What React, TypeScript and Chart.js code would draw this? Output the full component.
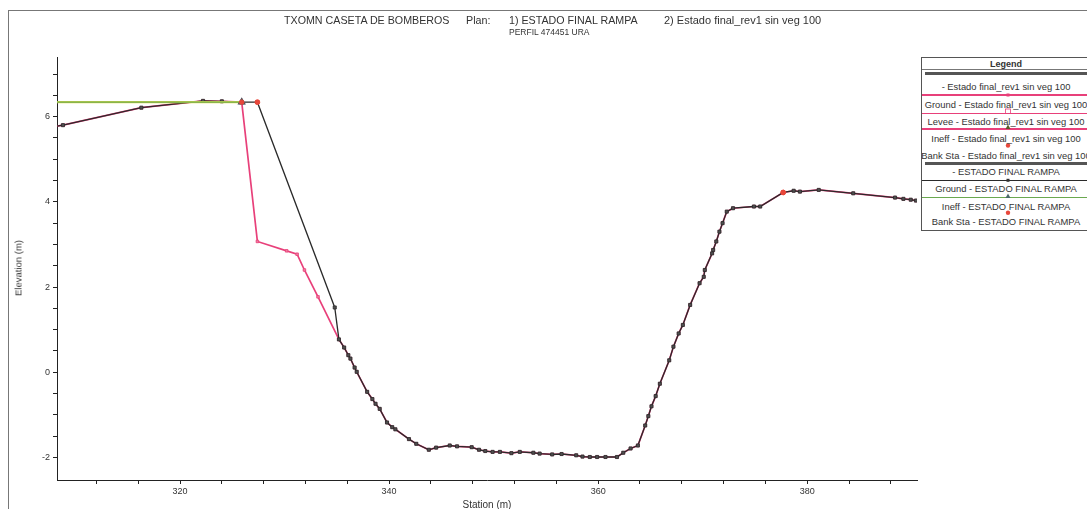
import React, { useEffect, useRef } from "react";
import { Chart, registerables } from "chart.js";
Chart.register(...registerables);

// ---- data ----
const X_MIN = 308.23;
const X_MAX = 390.5;
const Y_MIN = -2.53;
const Y_MAX = 7.4;

const rampaTopStation = [308.0, 308.8, 316.3, 322.2, 324.0, 325.9, 327.4, 334.8];
const rampaTopElev = [5.77, 5.8, 6.21, 6.37, 6.36, 6.34, 6.34, 1.52];

const rev1TopStation = [308.0, 308.8, 316.3, 322.2, 324.0, 325.9, 327.4, 330.2, 331.2, 331.9, 333.2];
const rev1TopElev = [5.77, 5.8, 6.21, 6.37, 6.36, 6.34, 3.07, 2.85, 2.77, 2.4, 1.77];

const commonStation = [
  335.2, 335.7, 336.1, 336.3, 336.7, 336.9, 337.9, 338.4, 338.7, 339.1, 339.8, 340.3, 340.6,
  341.9, 342.6, 343.8, 344.5, 345.8, 346.5, 347.9, 348.6, 349.2, 349.9, 350.6, 351.7, 352.5,
  353.8, 354.4, 355.6, 356.5, 357.9, 358.5, 359.2, 359.9, 360.7, 361.8, 362.4, 363.1, 363.8,
  364.5, 364.8, 365.1, 365.5, 365.9, 366.8, 367.2, 367.7, 368.1, 368.8, 369.7, 370.1, 370.2,
  370.9, 371.0, 371.3, 371.6, 371.9, 372.3, 372.9, 374.9, 375.5, 377.7, 378.7, 379.3, 381.1,
  384.4, 388.4, 389.2, 389.9, 390.4,
];
const commonElev = [
  0.77, 0.58, 0.4, 0.32, 0.11, 0.01, -0.46, -0.63, -0.74, -0.86, -1.18, -1.29, -1.34,
  -1.57, -1.68, -1.82, -1.77, -1.72, -1.74, -1.76, -1.82, -1.85, -1.87, -1.87, -1.9, -1.87,
  -1.89, -1.91, -1.93, -1.92, -1.95, -1.98, -1.99, -1.99, -1.99, -1.99, -1.89, -1.79, -1.72,
  -1.25, -1.03, -0.8, -0.56, -0.27, 0.28, 0.6, 0.91, 1.11, 1.58, 2.09, 2.24, 2.4,
  2.79, 2.87, 3.07, 3.3, 3.5, 3.77, 3.85, 3.89, 3.89, 4.22, 4.26, 4.24, 4.28,
  4.2, 4.1, 4.07, 4.05, 4.03,
];

const ineffRampaStation = [307.5, 325.9];
const ineffRampaElev = [6.34, 6.34];
const ineffRev1Station = [307.5, 325.9];
const ineffRev1Elev = [6.34, 6.34];

const bankRampaStation = [327.4, 377.7];
const bankRampaElev = [6.34, 4.22];
const bankRev1Station = [325.9, 377.7];
const bankRev1Elev = [6.34, 4.22];

const leveeRev1Station = [325.9];
const leveeRev1Elev = [6.34];

const yTickStep = 0.5;
const yLabelEvery = 2;
const xTickStep = 4;
const xLabelEvery = 20;

const titleParts = [
  "TXOMN CASETA DE BOMBEROS",
  "Plan:",
  "1) ESTADO FINAL RAMPA",
  "2) Estado final_rev1 sin veg 100",
];
const subtitle = "PERFIL 474451 URA";
const xTitle = "Station (m)";
const yTitle = "Elevation (m)";

const legendLabels = [
  " - Estado final_rev1 sin veg 100",
  "Ground - Estado final_rev1 sin veg 100",
  "Levee - Estado final_rev1 sin veg 100",
  "Ineff - Estado final_rev1 sin veg 100",
  "Bank Sta - Estado final_rev1 sin veg 100",
  "- ESTADO FINAL RAMPA",
  "Ground - ESTADO FINAL RAMPA",
  "Ineff - ESTADO FINAL RAMPA",
  "Bank Sta - ESTADO FINAL RAMPA",
];

// ---- colours ----
const BLACK = "#2a2a2a";
const PINK = "#e8407a";
const GREEN = "#6aa84f";
const YELLOW = "#e2dc4a";
const RED = "#e8473a";
const FONT = "'Liberation Sans', Arial, sans-serif";

const pts = (xs: number[], ys: number[]) => xs.map((x, i) => ({ x, y: ys[i] }));

function Legend() {
  const W = 172;
  const textY = [28.5, 46.5, 63.5, 80.5, 98, 113.7, 131.3, 148.5, 163.7];
  const textStyle = (y: number): React.CSSProperties => ({
    position: "absolute",
    left: -10,
    width: W + 16,
    top: y - 6,
    height: 12,
    lineHeight: "12px",
    textAlign: "center",
    fontSize: 9.4,
    color: "#333",
    whiteSpace: "nowrap",
  });
  const hline = (y: number, color: string, h = 1): React.CSSProperties => ({
    position: "absolute",
    left: 0,
    width: W,
    top: y - h / 2,
    height: h,
    background: color,
  });
  const cx = 86;
  return (
    <div
      style={{
        position: "absolute",
        left: 921,
        top: 57,
        width: W,
        height: 172,
        border: "1px solid #555",
        background: "#fff",
        fontFamily: FONT,
        overflow: "hidden",
      }}
    >
      <div style={{ ...textStyle(5.5), fontWeight: "bold", fontSize: 9 }}>Legend</div>
      <div style={hline(11, "#777")} />
      <div style={{ ...hline(15.3, "#555", 3), left: 3, width: W - 6 }} />
      <div style={{ ...hline(37, PINK, 1.2) }} />
      <div style={{ ...hline(55.5, PINK, 1.2) }} />
      <div style={{ ...hline(71, PINK, 1.2) }} />
      <div style={{ ...hline(105.7, "#555", 3), left: 3, width: W - 6 }} />
      <div style={{ ...hline(122.3, BLACK, 1) }} />
      <div style={{ ...hline(139.8, GREEN, 1.2) }} />
      <svg width={W} height={172} style={{ position: "absolute", left: 0, top: 0 }}>
        <rect x={cx - 1.5} y={35.5} width={3} height={3} fill={PINK} />
        <rect x={cx - 2.5} y={51} width={5} height={4.5} fill="none" stroke={PINK} strokeWidth={0.8} />
        <polygon points={`${cx},66.5 ${cx - 2.5},71 ${cx + 2.5},71`} fill="#5a5a2a" />
        <circle cx={cx} cy={87.5} r={2.2} fill={RED} />
        <rect x={cx - 1.5} y={120.8} width={3} height={3} fill="#333" />
        <polygon points={`${cx},135.5 ${cx - 2.5},140 ${cx + 2.5},140`} fill="#4a6a6a" />
        <circle cx={cx} cy={154.7} r={2.2} fill={RED} />
      </svg>
      {legendLabels.map((t, i) => (
        <div key={i} style={textStyle(textY[i])}>
          {t}
        </div>
      ))}
    </div>
  );
}

export default function App() {
  const ref = useRef<HTMLCanvasElement | null>(null);

  useEffect(() => {
    if (!ref.current) return;
    const markerR = (r: number) => (c: any) =>
      c.raw && (c.raw.x < X_MIN || c.raw.x > X_MAX) ? 0 : r;

    const chart = new Chart(ref.current, {
      type: "line",
      data: {
        datasets: [
          {
            label: "Bank Sta - ESTADO FINAL RAMPA",
            data: pts(bankRampaStation, bankRampaElev),
            showLine: false,
            pointStyle: "circle",
            pointRadius: 2.4,
            pointBackgroundColor: RED,
            pointBorderColor: RED,
            order: 0,
          },
          {
            label: "Bank Sta - Estado final_rev1 sin veg 100",
            data: pts(bankRev1Station, bankRev1Elev),
            showLine: false,
            pointStyle: "circle",
            pointRadius: 2.2,
            pointBackgroundColor: RED,
            pointBorderColor: RED,
            order: 1,
          },
          {
            label: "Levee - Estado final_rev1 sin veg 100",
            data: pts(leveeRev1Station, leveeRev1Elev),
            showLine: false,
            pointStyle: "triangle",
            pointRadius: 3.5,
            pointBackgroundColor: "#777",
            pointBorderColor: "#555",
            order: 2,
          },
          {
            label: "Ineff - ESTADO FINAL RAMPA",
            data: pts(ineffRampaStation, ineffRampaElev),
            borderColor: GREEN,
            borderWidth: 1.4,
            pointStyle: "triangle",
            pointRadius: (c: any) => (c.dataIndex === ineffRampaStation.length - 1 ? 3.5 : 0),
            pointBackgroundColor: "#7a8a7a",
            pointBorderColor: "#556",
            order: 3,
          },
          {
            label: "Ineff - Estado final_rev1 sin veg 100",
            data: pts(ineffRev1Station, ineffRev1Elev),
            borderColor: YELLOW,
            borderWidth: 2.4,
            pointRadius: 0,
            order: 4,
          },
          {
            label: "Ground - ESTADO FINAL RAMPA",
            data: pts(rampaTopStation.concat(commonStation), rampaTopElev.concat(commonElev)),
            borderColor: BLACK,
            borderWidth: 1.3,
            pointStyle: "rect",
            pointRadius: markerR(2.2),
            pointBackgroundColor: "#505050",
            pointBorderColor: "#2a2a2a",
            pointBorderWidth: 0.8,
            order: 5,
          },
          {
            label: "Ground - Estado final_rev1 sin veg 100",
            data: pts(rev1TopStation.concat(commonStation), rev1TopElev.concat(commonElev)),
            borderColor: PINK,
            borderWidth: 1.7,
            pointStyle: "rect",
            pointRadius: markerR(1.8),
            pointBackgroundColor: "#f07fa0",
            pointBorderColor: PINK,
            pointBorderWidth: 0.8,
            order: 6,
          },
        ],
      },
      options: {
        animation: false,
        responsive: false,
        devicePixelRatio: 1,
        parsing: false as any,
        layout: { padding: { left: 0, top: 57, right: 1087 - 917, bottom: 0 } },
        plugins: { legend: { display: false }, tooltip: { enabled: false }, title: { display: false } },
        elements: { line: { tension: 0 } },
        scales: {
          x: {
            type: "linear",
            min: X_MIN,
            max: X_MAX,
            afterFit: (s: any) => {
              s.height = 29;
            },
            afterBuildTicks: (s: any) => {
              const t: any[] = [];
              for (let v = Math.ceil(X_MIN / xTickStep) * xTickStep; v <= X_MAX; v += xTickStep) t.push({ value: v });
              s.ticks = t;
            },
            grid: { display: true, drawOnChartArea: false, drawTicks: true, tickLength: 4, color: "#222" },
            border: { display: true, color: "#222", width: 1 },
            ticks: {
              autoSkip: false,
              maxRotation: 0,
              padding: 2,
              color: "#333",
              font: { family: FONT, size: 9 },
              callback: (v: any) => (Math.abs(v % xLabelEvery) < 1e-6 ? String(v) : ""),
            },
          },
          y: {
            type: "linear",
            min: Y_MIN,
            max: Y_MAX,
            afterFit: (s: any) => {
              s.width = 57;
            },
            afterBuildTicks: (s: any) => {
              s.ticks = s.ticks.filter(
                (t: any) => Math.abs(t.value / yTickStep - Math.round(t.value / yTickStep)) < 1e-6
              );
            },
            grid: { display: true, drawOnChartArea: false, drawTicks: true, tickLength: 4, color: "#222" },
            border: { display: true, color: "#222", width: 1 },
            ticks: {
              stepSize: yTickStep,
              autoSkip: false,
              padding: 3,
              color: "#333",
              font: { family: FONT, size: 9 },
              callback: (v: any) => {
                const n = Number(v);
                return Math.abs(n % yLabelEvery) < 1e-6 ? String(Math.round(n)) : "";
              },
            },
          },
        },
      },
    } as any);
    return () => chart.destroy();
  }, []);

  const txt = (left: number, top: number, size: number, s: string) => (
    <div
      style={{
        position: "absolute",
        left,
        top,
        fontSize: size,
        lineHeight: `${size + 2}px`,
        color: "#333",
        whiteSpace: "nowrap",
      }}
    >
      {s}
    </div>
  );

  return (
    <div
      style={{
        position: "absolute",
        left: 0,
        top: 0,
        width: 1087,
        height: 509,
        overflow: "hidden",
        background: "#fff",
        fontFamily: FONT,
      }}
    >
      <div style={{ position: "absolute", left: 8, top: 10, width: 1079, height: 1, background: "#777" }} />
      <div style={{ position: "absolute", left: 8, top: 10, width: 1, height: 499, background: "#777" }} />
      <canvas ref={ref} width={1087} height={509} style={{ position: "absolute", left: 0, top: 0 }} />
      {txt(284, 14, 10.7, titleParts[0])}
      {txt(466, 14, 10.7, titleParts[1])}
      {txt(509, 14, 10.7, titleParts[2])}
      {txt(664, 14, 11, titleParts[3])}
      {txt(509, 27, 8.5, subtitle)}
      <div
        style={{
          position: "absolute",
          left: 18,
          top: 268,
          transform: "translate(-50%, -50%) rotate(-90deg)",
          fontSize: 9.5,
          color: "#333",
          whiteSpace: "nowrap",
        }}
      >
        {yTitle}
      </div>
      <div
        style={{
          position: "absolute",
          left: 487,
          top: 499,
          transform: "translateX(-50%)",
          fontSize: 10,
          color: "#333",
          whiteSpace: "nowrap",
        }}
      >
        {xTitle}
      </div>
      <Legend />
    </div>
  );
}
